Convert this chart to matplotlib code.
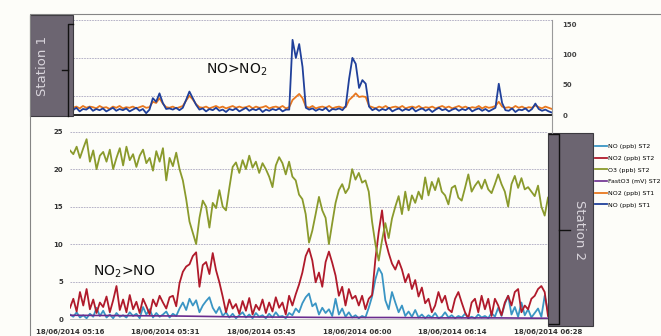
#!/usr/bin/env python3
"""Two-station NO / NO2 / O3 time series (scanned Excel chart look)."""
import numpy as np
import matplotlib
matplotlib.use("Agg")
import matplotlib.pyplot as plt
from matplotlib.lines import Line2D
from matplotlib.patches import Rectangle

# ── Data (one sample per 30 s from 05:16) ───────────────────────────────────
t_min = np.arange(0, 72.5, 0.5)

no_st2 = [
    0.6, 0.3, 0.9, 0.2, 0.5, 0.1, 0.7, 0.3, 1.5, 0.4,
    1.1, 0.2, 0.6, 0.1, 0.8, 0.3, 0.5, 0.2, 0.9, 0.4,
    0.7, 0.1, 1.6, 0.6, 1.3, 0.2, 0.8, 0.3, 0.6, 1.0,
    0.2, 0.7, 0.4, 1.4, 2.2, 1.2, 2.7, 1.8, 2.5, 0.9,
    1.8, 2.4, 2.9, 1.5, 0.8, 1.6, 0.4, 0.9, 0.2, 0.7,
    0.1, 0.5, 0.9, 0.2, 0.6, 0.1, 0.8, 0.3, 0.5, 0.1,
    0.7, 0.2, 0.9, 0.3, 0.4, 0.1, 0.8, 0.5, 1.4, 0.9,
    2.1, 2.9, 3.4, 1.7, 2.1, 0.6, 1.5, 0.8, 1.3, 0.4,
    2.7, 0.6, 1.4, 0.3, 0.9, 0.2, 0.5, 0.1, 0.4, 0.2,
    1.5, 3.0, 5.3, 6.8, 6.0, 2.5, 1.3, 3.6, 2.2, 0.9,
    1.8, 0.4, 1.0, 0.3, 1.2, 0.2, 0.6, 0.1, 0.5, 0.2,
    0.8, 0.1, 0.3, 0.9, 0.2, 0.5, 0.1, 0.4, 0.2, 0.7,
    0.1, 0.3, 0.1, 0.6, 0.2, 0.4, 0.1, 0.8, 0.3, 1.5,
    0.4, 2.0, 3.1, 0.6, 1.6, 0.3, 2.2, 0.5, 1.3, 0.2,
    0.8, 1.4, 0.3, 3.1, 1.0,
]

no2_st2 = [
    1.5, 2.7, 1.0, 3.6, 1.8, 4.0, 1.3, 2.6, 0.8, 2.2,
    1.6, 3.0, 0.9, 2.5, 4.4, 1.2, 2.6, 0.9, 3.2, 1.3,
    2.3, 0.8, 2.7, 1.7, 0.6, 2.6, 1.7, 3.1, 2.2, 1.4,
    2.9, 3.1, 1.7, 4.8, 6.3, 7.0, 7.3, 8.4, 8.9, 4.3,
    7.2, 7.6, 6.0, 8.8, 6.5, 4.9, 3.0, 0.9, 2.6, 1.4,
    2.0, 0.7, 2.4, 1.1, 2.8, 0.6, 1.9, 1.2, 2.6, 0.8,
    2.2, 1.0, 2.9, 1.5, 2.2, 0.6, 3.1, 1.8, 3.3, 4.6,
    6.2, 8.4, 9.4, 7.8, 4.9, 6.2, 4.3, 7.6, 9.0, 7.5,
    5.8, 3.1, 4.3, 1.8, 4.0, 2.7, 3.1, 1.8, 3.1, 1.3,
    2.7, 3.2, 8.0, 11.6, 14.5, 10.5, 8.8, 7.4, 6.6, 7.8,
    6.6, 4.9, 6.0, 4.0, 5.2, 3.0, 4.2, 2.1, 2.7, 0.9,
    1.8, 3.6, 2.2, 3.1, 1.3, 0.9, 2.7, 3.6, 2.2, 0.9,
    0.1, 2.2, 2.7, 0.9, 3.1, 1.3, 2.7, 0.4, 2.7, 1.8,
    0.5, 2.2, 3.1, 1.8, 3.6, 4.0, 0.9, 1.8, 1.3, 2.7,
    3.1, 4.0, 4.4, 3.6, 0.4,
]

o3_st2 = [
    22.5, 22.0, 23.0, 21.5, 22.8, 24.0, 21.0, 22.5, 20.0, 21.8,
    22.3, 21.0, 22.6, 20.0, 21.5, 22.8, 20.5, 23.0, 21.2, 22.0,
    20.3, 21.8, 22.6, 20.8, 21.5, 19.8, 22.4, 21.0, 22.8, 18.5,
    21.5, 20.4, 22.2, 20.0, 18.5, 16.0, 13.0, 11.5, 10.0, 13.5,
    15.8, 15.0, 12.2, 15.5, 14.8, 17.2, 15.0, 14.5, 17.5, 20.3,
    20.9, 19.5, 21.2, 20.0, 21.8, 20.2, 21.0, 19.5, 20.8, 20.0,
    19.0, 17.6, 20.5, 21.6, 20.8, 19.3, 21.0, 19.0, 18.5, 16.6,
    16.0, 14.0, 10.2, 11.8, 14.0, 16.3, 14.5, 13.5, 10.0, 12.8,
    15.5, 17.2, 18.0, 16.8, 17.5, 20.0, 18.6, 19.5, 18.2, 18.5,
    17.0, 13.0, 10.0, 7.8, 10.5, 12.8, 10.8, 13.4, 15.0, 16.4,
    14.0, 17.0, 14.5, 16.5, 15.5, 17.0, 16.0, 18.9, 16.5, 18.3,
    17.2, 18.8, 17.0, 16.5, 15.3, 17.5, 17.8, 16.2, 15.8, 17.5,
    19.3, 17.0, 17.8, 18.4, 17.4, 18.6, 17.3, 16.8, 18.0, 19.3,
    18.0, 17.0, 15.0, 18.0, 19.1, 17.5, 18.8, 17.3, 17.6, 17.0,
    16.4, 17.8, 15.0, 13.8, 16.2,
]

fast_t = [0, 8, 16, 24, 32, 40, 48, 56, 64, 72]
fast_o3 = [0.5, 0.45, 0.4, 0.3, 0.25, 0.2, 0.2, 0.15, 0.15, 0.1]

no2_st1 = [
    12, 14, 11, 15, 12, 14, 13, 11, 15, 12,
    13, 10, 14, 12, 15, 11, 13, 12, 14, 11,
    13, 15, 12, 13, 22, 20, 28, 19, 13, 12,
    14, 11, 13, 15, 24, 32, 26, 18, 13, 12,
    14, 11, 13, 15, 12, 14, 11, 13, 15, 12,
    14, 12, 13, 15, 11, 14, 12, 13, 15, 11,
    13, 14, 12, 15, 11, 13, 25, 30, 35, 28,
    14, 12, 15, 11, 13, 14, 12, 15, 11, 13,
    14, 12, 13, 25, 30, 36, 30, 31, 30, 15,
    13, 11, 14, 12, 15, 11, 13, 14, 12, 15,
    11, 13, 14, 12, 15, 11, 13, 12, 14, 11,
    13, 15, 12, 14, 11, 13, 15, 12, 14, 11,
    13, 12, 15, 11, 14, 12, 13, 15, 22, 14,
    12, 13, 11, 15, 12, 14, 11, 13, 12, 16,
    13, 11, 14, 12, 10,
]

no_st1 = [
    8, 12, 6, 10, 9, 13, 7, 10, 8, 11,
    6, 9, 12, 7, 10, 8, 11, 6, 9, 12,
    7, 10, 3, 9, 28, 22, 36, 20, 10, 11,
    9, 12, 8, 12, 25, 39, 28, 17, 9, 11,
    6, 10, 8, 12, 7, 9, 5, 10, 8, 11,
    6, 9, 12, 7, 10, 8, 11, 5, 9, 7,
    10, 8, 11, 6, 9, 9, 125, 95, 118, 80,
    12, 9, 11, 7, 10, 8, 12, 6, 10, 9,
    11, 8, 15, 60, 95, 85, 45, 58, 52, 14,
    8, 11, 7, 10, 8, 12, 6, 9, 11, 7,
    10, 8, 12, 6, 9, 11, 7, 10, 5, 9,
    12, 8, 10, 6, 9, 11, 7, 10, 8, 12,
    6, 9, 11, 7, 10, 6, 9, 12, 52, 20,
    8, 7, 11, 5, 9, 8, 11, 6, 10, 19,
    10, 7, 9, 6, 4,
]

time_labels = ["18/06/2014 05:16", "18/06/2014 05:31", "18/06/2014 05:45",
               "18/06/2014 06:00", "18/06/2014 06:14", "18/06/2014 06:28"]
top_right_ticks = [0, 50, 100, 150]
bottom_ticks = [0, 5, 10, 15, 20, 25]

# ── Layout helpers (pixel positions on the 661x336 canvas) ──────────────────
W, H = 661, 336
BG = "#fdfdf9"
GRID = "#aaa6bf"
BOX = "#6c6571"


def fx(x):
    return x / W


def fy(y):
    return 1 - y / H


def fig_line(fig, xs, ys, **kw):
    fig.add_artist(Line2D([fx(x) for x in xs], [fy(y) for y in ys],
                          transform=fig.transFigure, **kw))


fig = plt.figure(figsize=(W / 100, H / 100), dpi=100, facecolor=BG)

# ── Station 1 (top) ─────────────────────────────────────────────────────────
ax_top = fig.add_axes([fx(73), fy(115), fx(552) - fx(73), fy(20) - fy(115)])
ax_top.set_facecolor("none")
ax_top.set_ylim(-0.5, 2.0)      # hidden primary axis, only gives the gridlines
ax_top.set_yticks([0, 1, 2])
ax_top.yaxis.grid(True, color=GRID, linestyle=(0, (2, 1.2)), linewidth=0.6)
ax_top.tick_params(left=False, labelleft=False, bottom=False, labelbottom=False)
ax_top.set_xlim(0, 72)
for s in ("top", "left", "right"):
    ax_top.spines[s].set_visible(False)
ax_top.spines["bottom"].set_color("#111111")
ax_top.spines["bottom"].set_linewidth(1.3)

ax_t2 = ax_top.twinx()
ax_t2.set_xlim(0, 72)
ax_t2.set_ylim(0, 158)
ax_t2.plot(t_min, no2_st1, color="#e8781f", lw=1.3, label="NO2 (ppb) ST1")
ax_t2.plot(t_min, no_st1, color="#20409a", lw=1.3, label="NO (ppb) ST1")
ax_t2.set_yticks(top_right_ticks)
ax_t2.tick_params(right=False, labelsize=5, pad=4, labelcolor="#444444")
for lab in ax_t2.get_yticklabels():
    lab.set_fontweight("bold")
for s in ("top", "left", "bottom"):
    ax_t2.spines[s].set_visible(False)
ax_t2.spines["right"].set_color("#9a9a9a")
ax_t2.spines["right"].set_linewidth(0.8)

# ── Station 2 (bottom) ──────────────────────────────────────────────────────
ax = fig.add_axes([fx(70), fy(319), fx(548) - fx(70), fy(131.7) - fy(319)])
ax.set_facecolor("none")
ax.plot(t_min, no_st2, color="#3a95c4", lw=1.3, label="NO (ppb) ST2")
ax.plot(t_min, no2_st2, color="#b01a2b", lw=1.3, label="NO2 (ppb) ST2")
ax.plot(t_min, o3_st2, color="#8a9a2c", lw=1.3, label="O3 (ppb) ST2")
ax.plot(fast_t, fast_o3, color="#6a2b8e", lw=1.2, label="FastO3 (mV) ST2")
ax.set_xlim(0, 72)
ax.set_ylim(0, 25)
ax.set_yticks(bottom_ticks)
ax.set_xticks(np.linspace(0, 72, len(time_labels)))
ax.set_xticklabels(time_labels)
ax.yaxis.grid(True, color=GRID, linestyle=(0, (2, 1.2)), linewidth=0.6)
ax.tick_params(axis="y", length=0, labelsize=5, labelcolor="#333333", pad=5)
ax.tick_params(axis="x", length=0, labelsize=5, labelcolor="#333333", pad=7)
for lab in ax.get_xticklabels() + ax.get_yticklabels():
    lab.set_fontweight("bold")
for s in ("top", "left", "right"):
    ax.spines[s].set_visible(False)
ax.spines["bottom"].set_color("#b5b5b5")
ax.spines["bottom"].set_linewidth(0.6)

# ── Frame, station boxes and brackets ───────────────────────────────────────
fig_line(fig, [30, 30, 661], [336, 14, 14], color="#858585", lw=0.8)
fig_line(fig, [552, 552], [115, 133], color="#9a9a9a", lw=0.8)

fig.add_artist(Rectangle((fx(30), fy(116)), fx(73) - fx(30), fy(15.5) - fy(116),
                         transform=fig.transFigure, facecolor=BOX,
                         edgecolor="#3c3a40", lw=0.8))
fig.text(fx(42), fy(66), "Station 1", rotation=90, ha="center", va="center",
         fontsize=9.5, color="#d9d5dc")
fig_line(fig, [73, 68, 68], [24, 24, 116], color="#111111", lw=1.0)
fig_line(fig, [62, 68], [70, 70], color="#111111", lw=1.0)

fig.add_artist(Rectangle((fx(548), fy(326)), fx(593) - fx(548), fy(133) - fy(326),
                         transform=fig.transFigure, facecolor=BOX,
                         edgecolor="#3c3a40", lw=0.8))
fig.text(fx(580), fy(230), "Station 2", rotation=270, ha="center", va="center",
         fontsize=9.5, color="#d9d5dc")
fig_line(fig, [549, 559, 559, 549], [134, 134, 324, 324], color="#111111", lw=1.0)
fig_line(fig, [559, 570], [230, 230], color="#111111", lw=1.0)

# ── Annotations and legend ──────────────────────────────────────────────────
fig.text(fx(237), fy(70), "NO>NO$_2$", ha="center", va="center", fontsize=10,
         color="#111111")
fig.text(fx(124), fy(272), "NO$_2$>NO", ha="center", va="center", fontsize=10,
         color="#111111")

handles = ax.get_lines() + ax_t2.get_lines()
labels = [h.get_label() for h in handles]
fig.legend(handles, labels, loc="upper left", bbox_to_anchor=(fx(595), fy(144)),
           frameon=False, fontsize=4.5, handlelength=1.9, handletextpad=0.2,
           labelspacing=1.0, borderaxespad=0, borderpad=0)

fig.savefig("out.png", dpi=100, facecolor=BG)
